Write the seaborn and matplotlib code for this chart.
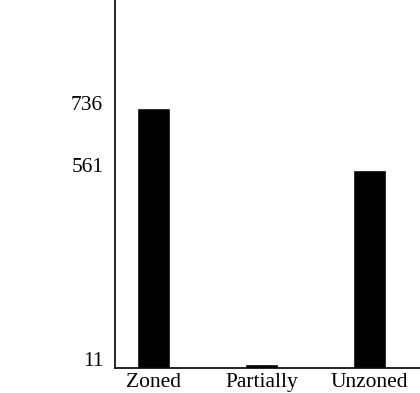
#!/usr/bin/env python3
"""Bar chart: counts per zoning category (Zoned / Partially / Unzoned)."""
import matplotlib

matplotlib.use("Agg")
import matplotlib.pyplot as plt
import matplotlib.transforms as mtransforms
import pandas as pd
import seaborn as sns

categories = ["Zoned", "Partially", "Unzoned"]
counts = [736, 11, 561]
tick_values = [11, 561, 736]


def main() -> None:
    sns.set_theme(style="white")
    plt.rcParams.update(
        {
            "font.family": ["Liberation Serif", "DejaVu Serif"],
            "font.size": 15.5,
            "xtick.labelsize": 15.5,
            "ytick.labelsize": 15.5,
        }
    )

    df = pd.DataFrame({"category": categories, "count": counts})

    fig = plt.figure(figsize=(4.2, 3.93), dpi=100)
    ax = fig.add_axes([115 / 420, 25 / 393, 305 / 420, 368 / 393])
    sns.barplot(
        data=df,
        x="category",
        y="count",
        order=categories,
        color="black",
        saturation=1,
        width=0.306,
        ax=ax,
    )

    ax.set_xlim(-0.356, 2.468)
    ax.set_ylim(0, 1042)
    ax.set_yticks(tick_values)
    ax.set_yticklabels([str(v) for v in tick_values])
    ax.set_xlabel("")
    ax.set_ylabel("")
    ax.tick_params(axis="both", length=0, colors="black")
    ax.tick_params(axis="y", pad=8.5)
    ax.tick_params(axis="x", pad=3.5)

    # labels sit a little above the bar tops
    shift = mtransforms.ScaledTranslation(0, 0.05, fig.dpi_scale_trans)
    for lab in ax.get_yticklabels():
        lab.set_transform(lab.get_transform() + shift)

    for side in ["top", "right"]:
        ax.spines[side].set_visible(False)
    for side in ["left", "bottom"]:
        ax.spines[side].set_color("black")
        ax.spines[side].set_linewidth(1.2)

    fig.savefig("out.png", dpi=100)
    plt.close(fig)


if __name__ == "__main__":
    main()
